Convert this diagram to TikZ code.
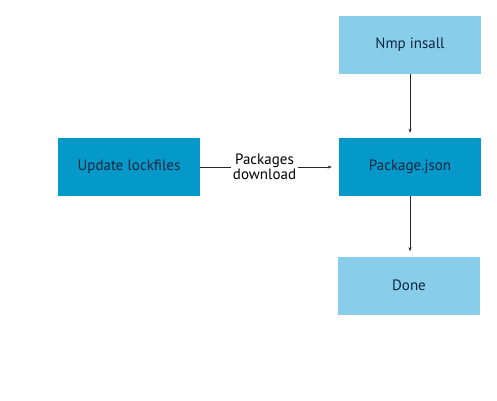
\documentclass[tikz,border=0pt]{standalone}
\usepackage{fontspec}
\setmainfont{PT Sans}
\usetikzlibrary{arrows.meta}
\definecolor{darkbox}{HTML}{0599C9}
\definecolor{lightbox}{HTML}{88CDEA}
\definecolor{boxtext}{HTML}{10263F}
\begin{document}
\begin{tikzpicture}[x=1pt,y=-1pt,
  box/.style={minimum width=142pt,minimum height=58pt,inner sep=0pt,text=boxtext,font=\fontsize{15}{17}\selectfont},
  dbox/.style={box,fill=darkbox},
  lbox/.style={box,fill=lightbox},
  conn/.style={draw=black!85,line width=0.8pt,-{Stealth[length=4pt,width=3pt]}},
  lab/.style={font=\fontsize{15}{15}\selectfont,align=center,inner sep=2pt,fill=white}]
\useasboundingbox[fill=white] (0,0) rectangle (497,400);
\node[lbox] (nmp) at (410,45) {Nmp insall};
\node[dbox] (upd) at (129,167) {Update lockfiles};
\node[dbox] (pkg) at (410,167) {Package.json};
\node[lbox] (done) at (409,285.5) {Done};
\node[lab] (dl) at (264.5,167) {Packages\\download};
\draw[conn,shorten >=5pt] (nmp) -- (pkg);
\draw[conn,shorten >=5pt] (pkg) -- (pkg.south |- done.north);
\draw[draw=black!85,line width=0.8pt] (upd.east) -- (dl.west);
\draw[conn,shorten >=7pt] (dl.east) -- (pkg.west);
\end{tikzpicture}
\end{document}
